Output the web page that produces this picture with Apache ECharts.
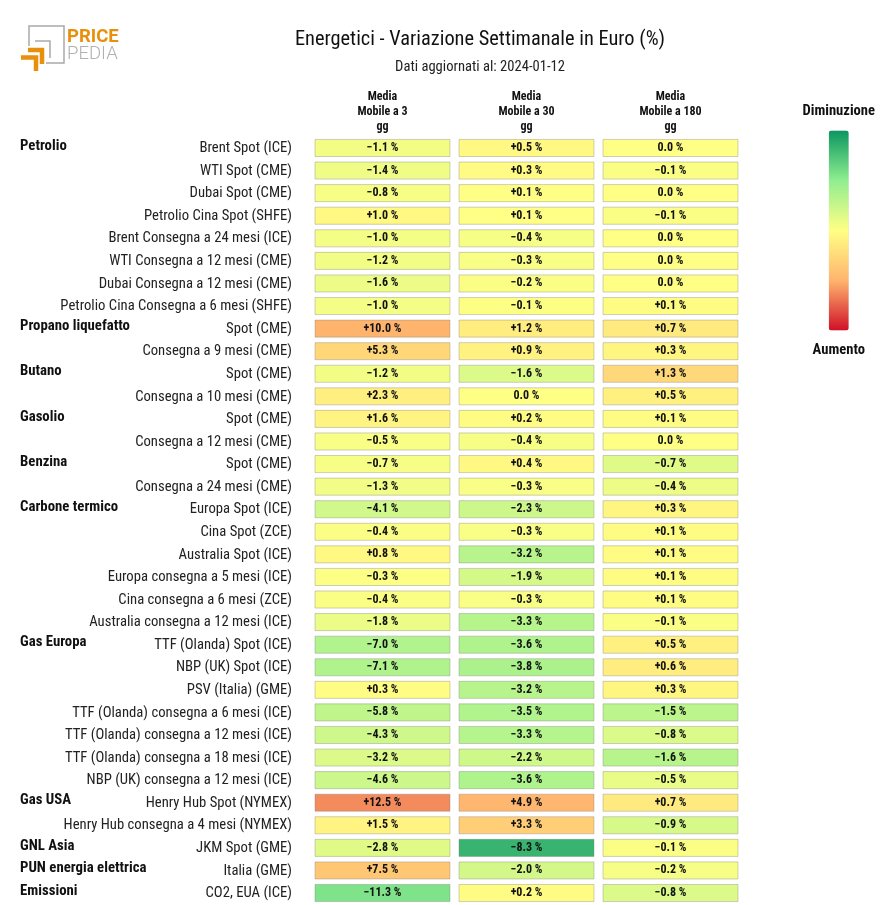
<!DOCTYPE html>
<html>
<head>
<meta charset="utf-8">
<style>html,body{margin:0;padding:0;background:#fff}#main{width:880px;height:905px}</style>
<script src="https://cdn.jsdelivr.net/npm/echarts@6/dist/echarts.min.js"></script>
</head>
<body>
<div id="main"></div>
<script>
var FONT = '"Roboto Condensed","Liberation Sans Narrow",Roboto,sans-serif';

var columns = ['Media\nMobile a 3\ngg', 'Media\nMobile a 30\ngg', 'Media\nMobile a 180\ngg'];
var columnScales = [20, 10, 5];

var rows = ['Brent Spot (ICE)', 'WTI Spot (CME)', 'Dubai Spot (CME)', 'Petrolio Cina Spot (SHFE)',
	'Brent Consegna a 24 mesi (ICE)', 'WTI Consegna a 12 mesi (CME)', 'Dubai Consegna a 12 mesi (CME)',
	'Petrolio Cina Consegna a 6 mesi (SHFE)', 'Spot (CME)', 'Consegna a 9 mesi (CME)', 'Spot (CME)',
	'Consegna a 10 mesi (CME)', 'Spot (CME)', 'Consegna a 12 mesi (CME)', 'Spot (CME)',
	'Consegna a 24 mesi (CME)', 'Europa Spot (ICE)', 'Cina Spot (ZCE)', 'Australia Spot (ICE)',
	'Europa consegna a 5 mesi (ICE)', 'Cina consegna a 6 mesi (ZCE)', 'Australia consegna a 12 mesi (ICE)',
	'TTF (Olanda) Spot (ICE)', 'NBP (UK) Spot (ICE)', 'PSV (Italia) (GME)', 'TTF (Olanda) consegna a 6 mesi (ICE)',
	'TTF (Olanda) consegna a 12 mesi (ICE)', 'TTF (Olanda) consegna a 18 mesi (ICE)', 'NBP (UK) consegna a 12 mesi (ICE)',
	'Henry Hub Spot (NYMEX)', 'Henry Hub consegna a 4 mesi (NYMEX)', 'JKM Spot (GME)', 'Italia (GME)', 'CO2, EUA (ICE)'];

var groups = ['Petrolio', '', '', '', '', '', '', '', 'Propano liquefatto', '', 'Butano', '', 'Gasolio', '', 'Benzina', '',
	'Carbone termico', '', '', '', '', '', 'Gas Europa', '', '', '', '', '', '', 'Gas USA', '', 'GNL Asia', 'PUN energia elettrica', 'Emissioni'];

var media3 = [-1.1, -1.4, -0.8, 1.0, -1.0, -1.2, -1.6, -1.0, 10.0, 5.3, -1.2, 2.3, 1.6, -0.5, -0.7, -1.3, -4.1, -0.4, 0.8, -0.3, -0.4, -1.8,
	-7.0, -7.1, 0.3, -5.8, -4.3, -3.2, -4.6, 12.5, 1.5, -2.8, 7.5, -11.3];
var media30 = [0.5, 0.3, 0.1, 0.1, -0.4, -0.3, -0.2, -0.1, 1.2, 0.9, -1.6, 0.0, 0.2, -0.4, 0.4, -0.3, -2.3, -0.3, -3.2, -1.9, -0.3, -3.3,
	-3.6, -3.8, -3.2, -3.5, -3.3, -2.2, -3.6, 4.9, 3.3, -8.3, -2.0, 0.2];
var media180 = [0.0, -0.1, 0.0, -0.1, 0.0, 0.0, 0.0, 0.1, 0.7, 0.3, 1.3, 0.5, 0.1, 0.0, -0.7, -0.4, 0.3, 0.1, 0.1, 0.1, 0.1, -0.1,
	0.5, 0.6, 0.3, -1.5, -0.8, -1.6, -0.5, 0.7, -0.9, -0.1, -0.2, -0.8];

var rampColors = ['#0a9660', '#90ee90', '#ffff85', '#ffb46e', '#d01028'];

function pct(v) {
	var s = v > 0 ? '+' : (v < 0 ? '\u2212' : '');
	return s + Math.abs(v).toFixed(1) + ' %';
}

var cells = [];
[media3, media30, media180].forEach(function (col, c) {
	col.forEach(function (v, r) {
		// il colore dipende dalla scala della colonna
		cells.push([c, r, v / columnScales[c], v]);
	});
});

var chart = echarts.init(document.getElementById('main'));
chart.setOption({
	animation: false,
	backgroundColor: '#fff',
	textStyle: { fontFamily: FONT },
	title: [{
		text: 'Energetici - Variazione Settimanale in Euro (%)',
		left: 475, top: 25, textAlign: 'center',
		textStyle: { fontFamily: FONT, fontSize: 20.4, fontWeight: 'normal', color: '#111' }
	}, {
		text: 'Dati aggiornati al: 2024-01-12',
		left: 475, top: 54.5, textAlign: 'center',
		textStyle: { fontFamily: FONT, fontSize: 14.6, fontWeight: 'normal', color: '#222' }
	}],
	grid: { left: 310.5, top: 136.7, width: 432, height: 767.6 },
	xAxis: {
		type: 'category', position: 'top', data: columns,
		axisLine: { show: false }, axisTick: { show: false }, splitLine: { show: false },
		axisLabel: { interval: 0, margin: 2.5, fontFamily: FONT, fontSize: 12, fontWeight: 'bold', color: '#111', lineHeight: 15 }
	},
	yAxis: [{
		type: 'category', inverse: true, data: rows,
		axisLine: { show: false }, axisTick: { show: false }, splitLine: { show: false },
		axisLabel: { interval: 0, margin: 18.5, verticalAlign: 'top', lineHeight: 1, fontFamily: FONT, fontSize: 14.7, color: '#222' }
	}, {
		type: 'category', inverse: true, position: 'left', data: groups,
		axisLine: { show: false }, axisTick: { show: false }, splitLine: { show: false },
		axisLabel: { interval: 0, margin: 290.5, align: 'left', verticalAlign: 'bottom', lineHeight: 4, fontFamily: FONT, fontSize: 14.8, fontWeight: 'bold', color: '#111' }
	}],
	visualMap: {
		type: 'continuous', seriesIndex: 0, dimension: 2, min: -1, max: 1, inverse: true,
		orient: 'vertical', left: 787.5, top: 88.5, itemWidth: 20, itemHeight: 200, calculable: false,
		text: ['Aumento', 'Diminuzione'], textGap: 12,
		textStyle: { fontFamily: FONT, fontSize: 14.6, fontWeight: 'bold', color: '#111' },
		inRange: { color: rampColors }
	},
	series: [{
		type: 'custom', silent: true, coordinateSystem: 'cartesian2d',
		encode: { x: 0, y: 1 },
		data: cells,
		renderItem: function (params, api) {
			var p = api.coord([api.value(0), api.value(1)]);
			var size = api.size([1, 1]);
			var w = size[0] - 9, h = size[1] - 5.5;
			return {
				type: 'group',
				children: [{
					type: 'rect',
					shape: { x: p[0] - w / 2, y: p[1] - h / 2, width: w, height: h },
					style: { fill: api.visual('color'), stroke: 'rgba(120,120,120,0.35)', lineWidth: 1 }
				}, {
					type: 'text',
					style: {
						x: p[0], y: p[1], text: pct(api.value(3)), align: 'center', verticalAlign: 'middle',
						font: 'bold 12px ' + FONT, fill: '#111'
					}
				}]
			};
		}
	}],
	graphic: [
		{ type: 'polyline', shape: { points: [[29, 46], [29, 26], [64, 26], [64, 63], [46, 63]] }, style: { fill: null, stroke: '#a9a9a9', lineWidth: 1.5 } },
		{ type: 'polyline', shape: { points: [[35, 41], [50, 41], [50, 58]] }, style: { fill: null, stroke: '#a9a9a9', lineWidth: 1.5 } },
		{ type: 'polyline', shape: { points: [[21, 57.5], [36, 57.5], [36, 71]] }, style: { fill: null, stroke: '#e8900c', lineWidth: 4.5 } },
		{ type: 'polyline', shape: { points: [[28, 50], [42, 50], [42, 64]] }, style: { fill: null, stroke: '#e8900c', lineWidth: 4.5 } },
		{ type: 'text', left: 67, top: 27.5, style: { text: 'PRICE', font: 'bold 18.5px Roboto', fill: '#e8900c' } },
		{ type: 'text', left: 67, top: 44.5, style: { text: 'PEDIA', font: '300 18.5px Roboto', fill: '#b0b0b0' } }
	]
});
</script>
</body>
</html>
